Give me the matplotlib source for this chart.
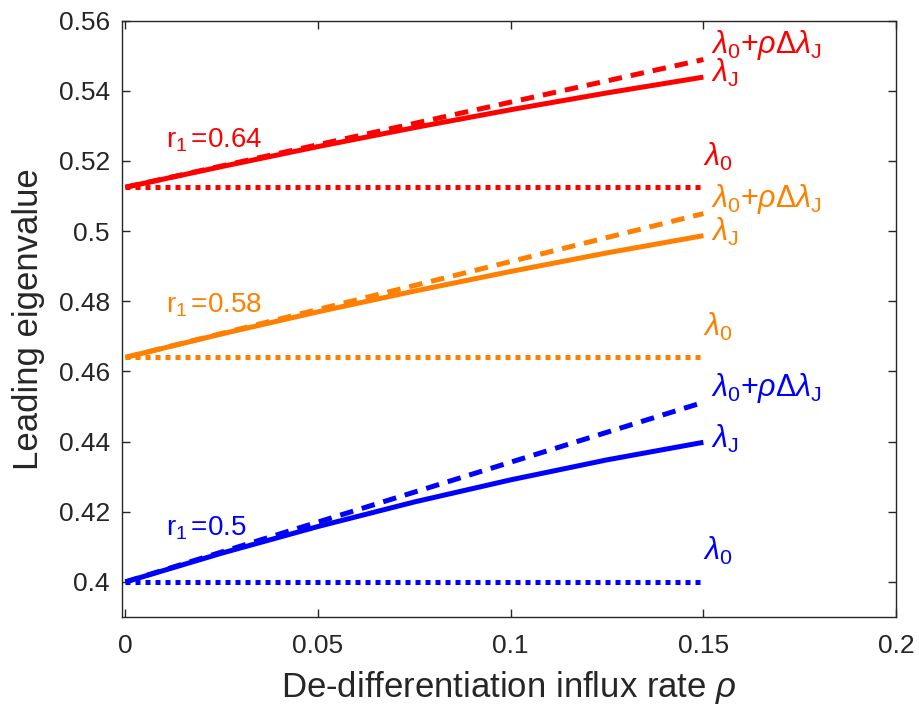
import numpy as np
import matplotlib
matplotlib.use('Agg')
from matplotlib import pyplot as plt

plt.rcParams['font.family'] = ['Liberation Sans', 'DejaVu Sans']
plt.rcParams['mathtext.fontset'] = 'custom'
plt.rcParams['mathtext.rm'] = 'Liberation Sans'
plt.rcParams['mathtext.it'] = 'Liberation Sans:italic'
plt.rcParams['mathtext.sf'] = 'Liberation Sans'

# data
rho = [0, 0.025, 0.05, 0.075, 0.1, 0.125, 0.15]
rho_ends = [0, 0.15]

r1_values = ['0.64', '0.58', '0.5']
colors = ['#ff0000', '#ff8000', '#0000ff']

# lambda_J (solid)
lamJ_red = [0.5125, 0.5184, 0.5241, 0.5295, 0.5346, 0.5394, 0.5439]
lamJ_orange = [0.464, 0.4707, 0.4770, 0.4829, 0.4885, 0.4938, 0.4987]
lamJ_blue = [0.400, 0.4082, 0.4158, 0.4228, 0.4291, 0.4348, 0.4398]

# lambda_0 + rho*dlambda_J (dashed), start and end
lin_red = [0.5125, 0.5489]
lin_orange = [0.464, 0.5050]
lin_blue = [0.400, 0.4512]

# lambda_0 (dotted)
lam0 = [0.5125, 0.464, 0.400]

# r_1 label heights
r1_label_y = [0.5238, 0.4767, 0.4131]

lamJ_all = [lamJ_red, lamJ_orange, lamJ_blue]
lin_all = [lin_red, lin_orange, lin_blue]

fig = plt.figure(figsize=(9.19, 7.11), dpi=100)
ax = fig.add_axes([0.1331, 0.1322, 0.975 - 0.1331, 0.971 - 0.1322])

lw = 3.6
for i in range(3):
	c = colors[i]
	ax.plot(rho, lamJ_all[i], color=c, linewidth=lw, solid_capstyle='butt')
	ax.plot(rho_ends, lin_all[i], color=c, linewidth=lw, dashes=(2.7, 1.8), dash_capstyle='butt')
	ax.plot(rho_ends, [lam0[i], lam0[i]], color=c, linewidth=lw, dashes=(1, 1), dash_capstyle='butt')

	# annotations
	ax.text(0.152, lin_all[i][-1] + 0.0019, r'$\lambda_\mathrm{0}\mathrm{+}\rho\Delta\lambda_\mathrm{J}$',
		color=c, fontsize=22, va='baseline', ha='left')
	ax.text(0.152, lamJ_all[i][-1] - 0.0015, r'$\lambda_\mathrm{J}$',
		color=c, fontsize=22, va='baseline', ha='left')
	ax.text(0.15, lam0[i] + 0.0062, r'$\lambda_\mathrm{0}$',
		color=c, fontsize=22, va='baseline', ha='left')
	ax.text(0.0105, r1_label_y[i], r'r$_\mathrm{1}\,$=' + r1_values[i],
		color=c, fontsize=20, va='baseline', ha='left')

ax.set_xlim(-0.0008, 0.2)
ax.set_ylim(0.39, 0.56)
ax.set_xticks([0, 0.05, 0.1, 0.15, 0.2])
ax.set_xticklabels(['0', '0.05', '0.1', '0.15', '0.2'])
yt = [0.4, 0.42, 0.44, 0.46, 0.48, 0.5, 0.52, 0.54, 0.56]
ax.set_yticks(yt)
ax.set_yticklabels(['0.4', '0.42', '0.44', '0.46', '0.48', '0.5', '0.52', '0.54', '0.56'])

axis_col = '#262626'
for s in ax.spines.values():
	s.set_color(axis_col)
	s.set_linewidth(1.0)
ax.tick_params(direction='in', top=True, right=True, length=6, width=1.0,
	color=axis_col, labelcolor=axis_col, labelsize=19)
ax.tick_params(axis='x', pad=12)
ax.tick_params(axis='y', pad=9)

ax.set_xlabel(r'De-differentiation influx rate $\rho$', fontsize=25, color=axis_col, labelpad=8)
ax.set_ylabel('Leading eigenvalue', fontsize=25, color=axis_col, labelpad=10)

fig.savefig('out.png', dpi=100)
